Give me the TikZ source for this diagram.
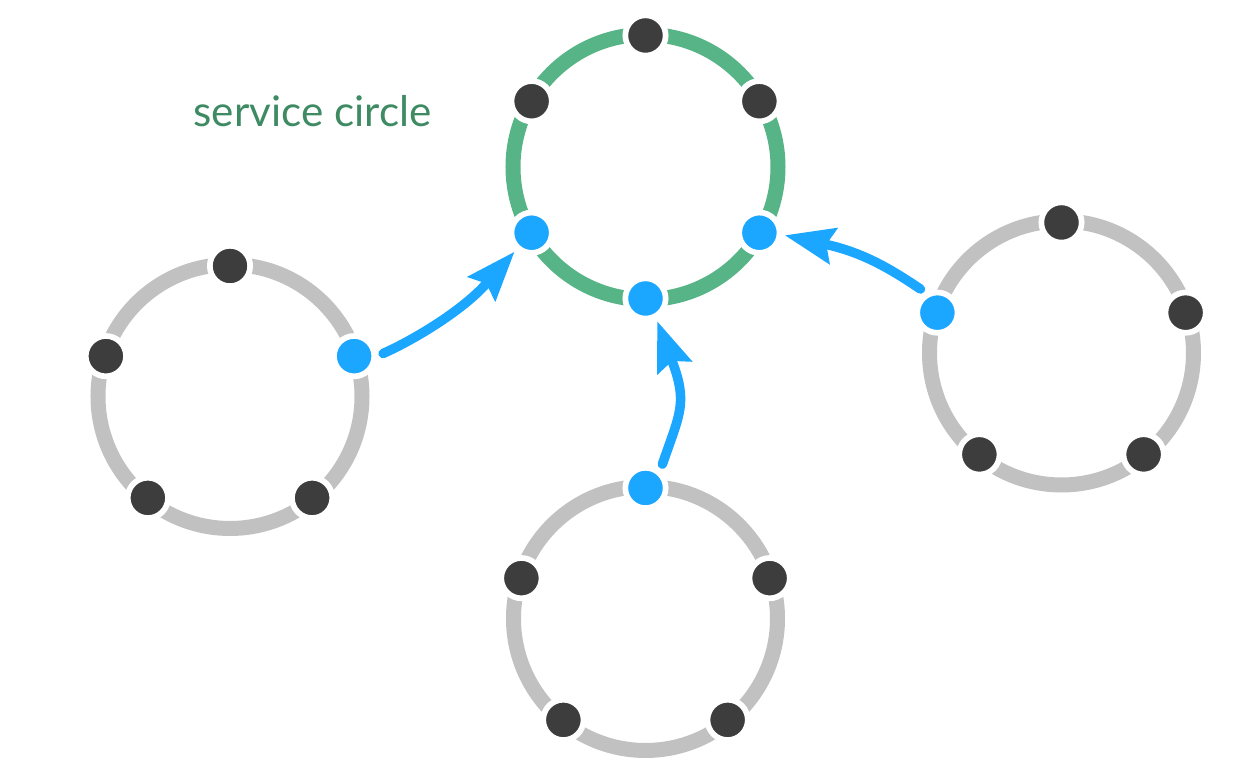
\documentclass[tikz,border=0pt]{standalone}
\usepackage{fontspec}
\usepackage{tikz}
\usetikzlibrary{arrows.meta}
\newfontfamily\labelfont{Lato}
\definecolor{service}{RGB}{87, 180, 134}
\definecolor{servicetext}{RGB}{62, 138, 99}
\definecolor{idle}{RGB}{193, 193, 193}
\definecolor{member}{RGB}{61, 61, 61}
\definecolor{link}{RGB}{27, 166, 255}

\begin{document}
\begin{tikzpicture}[x=0.01cm, y=0.01cm,
  ring/.style={line width=0.15cm},
  dot/.style={circle, inner sep=0pt, minimum size=0.403cm, fill=member, draw=white, line width=0.057cm},
  joined/.style={dot, fill=link},
  call/.style={draw=link, line width=0.095cm, line cap=round,
    -{Stealth[length=0.5cm, width=0.38cm, inset=0.08cm, line width=0pt]},
    shorten <=0.065cm, shorten >=0.03cm}]

  \useasboundingbox (0, 0) rectangle (1244, 777);

  \node[anchor=base, text=servicetext, font=\labelfont\fontsize{12}{15}\selectfont] (title) at (312.5, 650) {service circle};

  % service circle
  \begin{scope}[shift={(645.5, 610)}]
    \draw[ring, draw=service] (0, 0) circle (132.5);
    \node[dot] (g1) at (90:131.5) {};
    \node[dot] (g2) at (30:131.5) {};
    \node[joined] (g3) at (-30:131.5) {};
    \node[joined] (g4) at (-90:131.5) {};
    \node[joined] (g5) at (210:131.5) {};
    \node[dot] (g6) at (150:131.5) {};
  \end{scope}

  \begin{scope}[shift={(230, 380.5)}]
    \draw[ring, draw=idle] (0, 0) circle (132);
    \node[dot] (l1) at (90:130.5) {};
    \node[joined] (l2) at (18:130.5) {};
    \node[dot] (l3) at (-51:130.5) {};
    \node[dot] (l4) at (-129:130.5) {};
    \node[dot] (l5) at (162:130.5) {};
  \end{scope}

  \begin{scope}[shift={(645.5, 158.5)}]
    \draw[ring, draw=idle] (0, 0) circle (132);
    \node[joined] (b1) at (90:130.5) {};
    \node[dot] (b2) at (18:130.5) {};
    \node[dot] (b3) at (-51:130.5) {};
    \node[dot] (b4) at (-129:130.5) {};
    \node[dot] (b5) at (162:130.5) {};
  \end{scope}

  \begin{scope}[shift={(1061.5, 424)}]
    \draw[ring, draw=idle] (0, 0) circle (132);
    \node[dot] (r1) at (90:130.5) {};
    \node[dot] (r2) at (18:130.5) {};
    \node[dot] (r3) at (-51:130.5) {};
    \node[dot] (r4) at (-129:130.5) {};
    \node[joined] (r5) at (162:130.5) {};
  \end{scope}

  \draw[call] (l2.0) .. controls +(24:42) and +(228.5:80) .. (g5.228);
  \draw[call] (b1.50) .. controls +(71:61) and +(290.5:90) .. (g4.298);
  \draw[call] (r5.120) .. controls +(146:42) and +(347.5:83) .. (g3.355);

\end{tikzpicture}
\end{document}
